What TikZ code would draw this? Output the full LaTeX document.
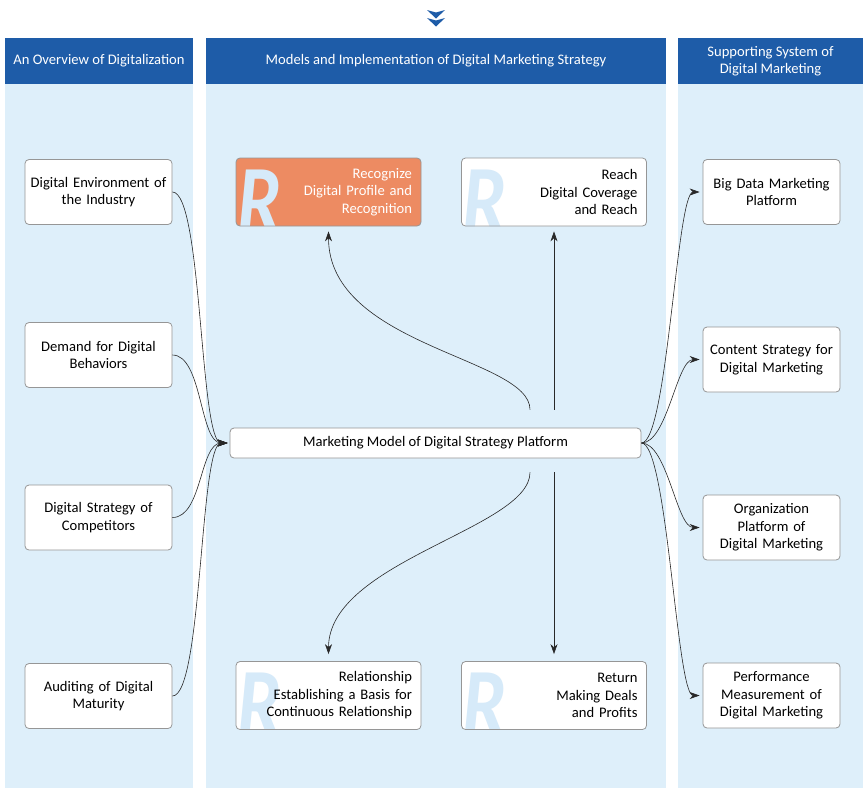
\documentclass[tikz,border=0pt]{standalone}
\usepackage{fontspec}
\setmainfont{Carlito}
\usetikzlibrary{arrows.meta}
\definecolor{mkblue}{RGB}{30,92,168}
\definecolor{mkpanel}{RGB}{222,239,250}
\definecolor{mkorange}{RGB}{237,139,98}
\definecolor{mkgrey}{RGB}{150,150,150}
\definecolor{mkletter}{RGB}{214,234,249}
\definecolor{mkline}{RGB}{40,40,40}
\newcommand{\txtfont}{\fontsize{14.6}{17.5}\selectfont}
\tikzset{
  header/.style={rectangle, fill=mkblue, text=white, align=center,
                 minimum height=46pt, inner sep=0pt, font=\txtfont},
  box/.style={rectangle, rounded corners=4pt, draw=mkgrey, line width=0.8pt,
              fill=white, align=center, inner sep=3pt,
              minimum height=65pt, font=\txtfont},
  rbox/.style={box, text width=167pt, inner sep=9pt, align=right,
               minimum height=68pt,
               path picture={\node[anchor=base west, inner sep=0pt, draw=none,
                 fill=none, text width=, align=left, text=mkletter,
                 font=\fontsize{98}{98}\selectfont\bfseries\itshape]
                 at ([xshift=1pt,yshift=-7pt]path picture bounding box.south west)
                 {\scalebox{0.8}[1]{R}};}},
  arrow/.style={-{Stealth[length=10pt,width=7pt]}, line width=0.6pt, color=mkline},
}
\begin{document}
\begin{tikzpicture}[x=1pt, y=-1pt]
  \useasboundingbox (0,0) rectangle (864,788);
  % column panels
  \fill[mkpanel] (5,84) rectangle (193,788);
  \fill[mkpanel] (206,84) rectangle (666,788);
  \fill[mkpanel] (678,84) rectangle (863,788);
  % headers
  \node[header, minimum width=188pt] (hleft) at (99,61) {An Overview of Digitalization};
  \node[header, minimum width=460pt] (hmid) at (436,61) {Models and Implementation of Digital Marketing Strategy};
  \node[header, minimum width=185pt] (hright) at (770.5,61) {Supporting System of\\Digital Marketing};
  % chevrons on top
  \foreach \dy in {0,8}{
    \fill[mkblue] (427,10+\dy) -- (436,12.5+\dy) -- (445,10+\dy) -- (436,18.5+\dy) -- cycle;
  }
  % inputs (left column)
  \foreach \i/\y/\lbl in {1/192/{Digital Environment of\\the Industry},
                          2/355/{Demand for Digital\\Behaviors},
                          3/517.5/{Digital Strategy of\\Competitors},
                          4/696/{Auditing of Digital\\Maturity}}{
    \node[box, text width=141pt] (in\i) at (98.5,\y) {\lbl};
  }
  % outputs (right column)
  \foreach \i/\y/\lbl in {1/192/{Big Data Marketing\\Platform},
                          2/359.5/{Content Strategy for\\Digital Marketing},
                          3/527.5/{Organization\\Platform of\\Digital Marketing},
                          4/695.5/{Performance\\Measurement of\\Digital Marketing}}{
    \node[box, text width=131pt] (out\i) at (771.5,\y) {\lbl};
  }
  % platform
  \node[box, minimum width=411pt, minimum height=30pt, inner sep=0pt] (model) at (435.5,443)
    {Marketing Model of Digital Strategy Platform};
  % the four R's
  \node[rbox, fill=mkorange, text=white] (recog) at (328.5,192) {Recognize\\Digital Profile and\\Recognition};
  \node[rbox] (reach) at (554,192) {Reach\\Digital Coverage\\and Reach};
  \node[rbox] (relat) at (328.5,695.5) {Relationship\\Establishing a Basis for\\Continuous Relationship};
  \node[rbox] (retrn) at (554,695.5) {Return\\Making Deals\\and Profits};
  % connectors
  \foreach \i in {1,...,4}{
    \draw[arrow, shorten >=2pt] (in\i.east) .. controls +(30,0) and +(-30,0) .. (model.west);
    \draw[arrow, shorten >=3pt] (model.east) .. controls +(26,0) and +(-26,0) .. (out\i.west);
  }
  \draw[arrow, shorten <=18pt, shorten >=5pt] ([xshift=94.5pt]model.north)
    .. controls +(0,-70) and +(0,120) .. (recog.south);
  \draw[arrow, shorten <=18pt, shorten >=5pt] (reach.south |- model.north) -- (reach.south);
  \draw[arrow, shorten <=14pt, shorten >=7pt] ([xshift=94.5pt]model.south)
    .. controls +(0,70) and +(0,-100) .. (relat.north);
  \draw[arrow, shorten <=14pt, shorten >=7pt] (retrn.north |- model.south) -- (retrn.north);
\end{tikzpicture}
\end{document}
